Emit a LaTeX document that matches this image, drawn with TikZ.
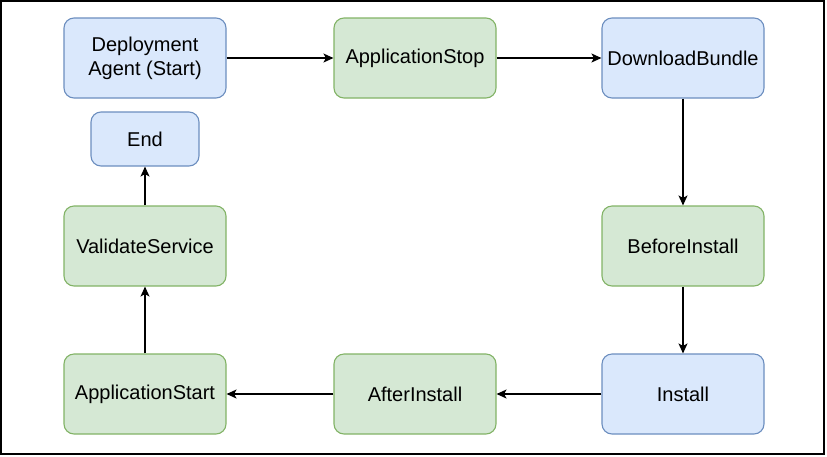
\documentclass[tikz,border=0pt]{standalone}
\usepackage{fontspec}
\setmainfont{Liberation Sans}
\usetikzlibrary{arrows.meta}
\definecolor{blufill}{HTML}{DAE8FC}
\definecolor{bluline}{HTML}{6C8EBF}
\definecolor{grnfill}{HTML}{D5E8D4}
\definecolor{grnline}{HTML}{82B366}

\begin{document}
\begin{tikzpicture}[x=1pt,y=-1pt,
    box/.style={rounded corners=10pt,line width=1.1pt,minimum width=162pt,minimum height=80pt,
      align=center,font=\fontsize{20}{24}\selectfont,inner sep=2pt},
    bluebox/.style={box,draw=bluline,fill=blufill},
    greenbox/.style={box,draw=grnline,fill=grnfill},
    flow/.style={line width=1.4pt,-{Stealth[length=10pt,width=9pt,inset=2.5pt]}}]
  \useasboundingbox (0,0) rectangle (827,456);
  \draw[line width=1.5pt] (0.75,0.75) rectangle (824,454);
  % top row
  \node[bluebox] (agent) at (145,58) {Deployment\\Agent (Start)};
  \node[greenbox] (appstop) at (415,58) {ApplicationStop};
  \node[bluebox] (download) at (683,58) {DownloadBundle};
  % middle row
  \node[bluebox,minimum width=108pt,minimum height=54pt] (finish) at (145,139) {End};
  \node[greenbox] (validate) at (145,246) {ValidateService};
  \node[greenbox] (before) at (683,246) {BeforeInstall};
  % bottom row
  \node[greenbox] (appstart) at (145,394) {ApplicationStart};
  \node[greenbox] (after) at (415,394) {AfterInstall};
  \node[bluebox] (install) at (683,394) {Install};
  % connectors
  \draw[flow] (agent) -- (appstop);
  \draw[flow] (appstop) -- (download);
  \draw[flow] (download) -- (before);
  \draw[flow] (before) -- (install);
  \draw[flow] (install) -- (after);
  \draw[flow] (after) -- (appstart);
  \draw[flow] (appstart) -- (validate);
  \draw[flow] (validate) -- (finish);
\end{tikzpicture}
\end{document}
